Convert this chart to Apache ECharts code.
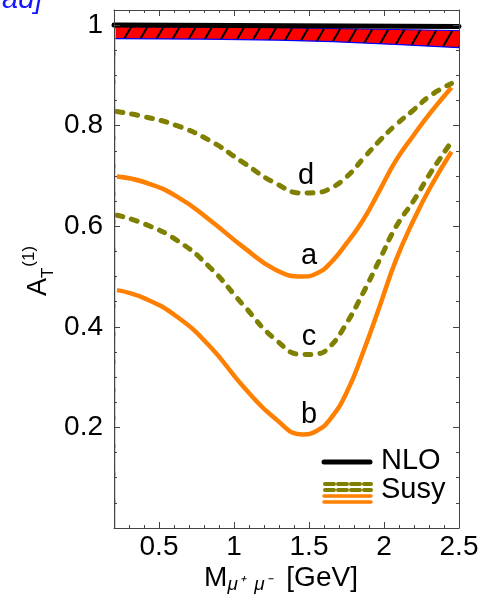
<!DOCTYPE html>
<html>
<head>
<meta charset="utf-8">
<script src="https://cdn.jsdelivr.net/npm/echarts@6/dist/echarts.min.js"></script>
<style>
  html, body { margin: 0; padding: 0; background: #fff; }
  #chart { width: 484px; height: 602px; }
</style>
</head>
<body>
<div id="chart"></div>
<script>
  const FONT = 'Liberation Sans, Arial, Helvetica, sans-serif'

  // curves a-d share one x grid (M in GeV)
  const xs = [0.22, 0.4, 0.62, 0.84, 1.06, 1.28, 1.46, 1.55, 1.64, 1.75, 1.86, 1.97, 2.08, 2.2, 2.31, 2.45]
  const curveA = [0.699, 0.688, 0.659, 0.612, 0.559, 0.513, 0.500, 0.506, 0.526, 0.566, 0.612, 0.671, 0.731, 0.782, 0.826, 0.876]
  const curveB = [0.473, 0.457, 0.420, 0.361, 0.282, 0.216, 0.186, 0.193, 0.216, 0.269, 0.349, 0.440, 0.533, 0.614, 0.678, 0.748]
  const curveC = [0.622, 0.605, 0.572, 0.518, 0.444, 0.374, 0.345, 0.346, 0.361, 0.407, 0.467, 0.533, 0.599, 0.652, 0.706, 0.768]
  const curveD = [0.828, 0.818, 0.800, 0.770, 0.727, 0.685, 0.666, 0.667, 0.675, 0.698, 0.734, 0.770, 0.802, 0.832, 0.860, 0.884]

  // NLO line and the hatched band under it
  const nloX = [0.2, 1.0, 2.5]
  const nloY = [1.0, 0.999, 0.997]
  const bandX = [0.21, 0.8, 1.29, 1.66, 2.11, 2.5]
  const bandLow = [0.973, 0.972, 0.970, 0.967, 0.961, 0.955]
  const bandHigh = [0.997, 0.996, 0.995, 0.993, 0.991, 0.989]

  // curve letters
  const labelText = ['a', 'b', 'c', 'd']
  const labelX = [1.5, 1.5, 1.5, 1.48]
  const labelY = [0.541, 0.225, 0.38, 0.70]

  const ORANGE = '#ff7f00'
  const OLIVE = '#808000'

  const pts = (xArr, yArr) => xArr.map((x, i) => [x, yArr[i]])

  const mainAxisBase = {
    type: 'value',
    z: 6,
    axisLine: { show: true, onZero: false, lineStyle: { color: '#444', width: 1 } },
    axisTick: { show: true, inside: true, length: 6, lineStyle: { color: '#444' } },
    splitLine: { show: false },
    axisLabel: { show: false },
  }
  const minorAxisBase = {
    type: 'value',
    z: 6,
    axisLine: { show: false, onZero: false },
    axisTick: { show: true, inside: true, length: 3, lineStyle: { color: '#444' } },
    splitLine: { show: false },
    axisLabel: { show: false },
  }

  const xFmt = v => (v > 0.3 && Math.abs(v * 2 - Math.round(v * 2)) < 1e-6) ? String(v) : ''
  const yFmt = v => (v > 0.1 && Math.abs(v * 5 - Math.round(v * 5)) < 1e-6) ? String(Math.round(v * 10) / 10) : ''

  const curveSeries = (name, data, dashed) => ({
    name,
    type: 'line',
    data: pts(xs, data),
    smooth: 0.5,
    showSymbol: false,
    symbol: 'none',
    lineStyle: dashed
      ? { color: OLIVE, width: 5, type: [6, 9], cap: 'round' }
      : { color: ORANGE, width: 4.5 },
    z: 4,
  })

  const chart = echarts.init(document.getElementById('chart'), null, { renderer: 'canvas' })

  chart.setOption({
    animation: false,
    backgroundColor: '#fff',
    textStyle: { fontFamily: FONT },
    grid: { left: 114, right: 25, top: 10, bottom: 74, containLabel: false },
    xAxis: [
      Object.assign({}, mainAxisBase, {
        position: 'bottom', min: 0.2, max: 2.5, splitNumber: 5,
        axisLabel: { show: true, formatter: xFmt, fontSize: 28, color: '#000', margin: 5, fontFamily: FONT },
      }),
      Object.assign({}, mainAxisBase, { position: 'top', min: 0.2, max: 2.5, splitNumber: 5 }),
      Object.assign({}, minorAxisBase, { position: 'bottom', min: 0.2, max: 2.5, interval: 0.1 }),
      Object.assign({}, minorAxisBase, { position: 'top', min: 0.2, max: 2.5, interval: 0.1 }),
    ],
    yAxis: [
      Object.assign({}, mainAxisBase, {
        position: 'left', min: 0, max: 1.03, interval: 0.2,
        axisLabel: { show: true, formatter: yFmt, fontSize: 28, color: '#000', margin: 11, fontFamily: FONT },
      }),
      Object.assign({}, mainAxisBase, { position: 'right', min: 0, max: 1.03, interval: 0.2 }),
      Object.assign({}, minorAxisBase, { position: 'left', min: 0, max: 1.03, interval: 0.05 }),
      Object.assign({}, minorAxisBase, { position: 'right', min: 0, max: 1.03, interval: 0.05 }),
    ],
    series: [
      // red hatched fill down from the upper edge of the band
      {
        name: 'bandHigh',
        type: 'line',
        data: pts(bandX, bandHigh),
        symbol: 'none',
        lineStyle: { color: '#0000ff', width: 1 },
        areaStyle: { color: '#ff0000', opacity: 1, origin: 'start' },
        itemStyle: {
          color: '#ff0000',
          decal: {
            symbol: 'rect',
            symbolSize: 1,
            dashArrayX: [1, 0],
            dashArrayY: [1.2, 12],
            rotation: -Math.PI / 3,
            color: '#000',
          },
        },
        z: 1,
      },
      // white fill below the lower edge clears everything under the band
      {
        name: 'bandLow',
        type: 'line',
        data: pts(bandX, bandLow),
        symbol: 'none',
        lineStyle: { color: '#0000ff', width: 1.2 },
        areaStyle: { color: '#ffffff', opacity: 1, origin: 'start' },
        z: 2,
      },
      {
        name: 'NLO',
        type: 'line',
        data: pts(nloX, nloY),
        symbol: 'none',
        lineStyle: { color: '#000', width: 5, cap: 'round' },
        z: 3,
      },
      curveSeries('a', curveA, false),
      curveSeries('b', curveB, false),
      curveSeries('c', curveC, true),
      curveSeries('d', curveD, true),
      {
        name: 'labels',
        type: 'scatter',
        symbolSize: 0,
        itemStyle: { opacity: 1 },
        data: labelText.map((t, i) => ({ value: [labelX[i], labelY[i]], name: t })),
        label: {
          show: true,
          position: 'inside',
          formatter: p => p.name,
          fontSize: 29,
          color: '#000',
          opacity: 1,
          fontFamily: FONT,
        },
        z: 5,
      },
    ],
    graphic: [
      // stray caption fragment from the page above the plot
      {
        type: 'text', left: 2, top: -15, z: 100,
        style: { text: 'ad]', fill: '#1515ff', font: 'italic 29px ' + FONT },
      },
      // y axis name A_T^(1)
      {
        type: 'text', x: 39, y: 271, rotation: Math.PI / 2, z: 100,
        style: {
          text: '{a|A}{t|T}{p|(1)}',
          align: 'center', verticalAlign: 'middle',
          rich: {
            a: { fontSize: 27, lineHeight: 36, fontFamily: FONT, fill: '#000' },
            t: { fontSize: 17, lineHeight: 17, verticalAlign: 'bottom', fontFamily: FONT, fill: '#000' },
            p: { fontSize: 17, lineHeight: 17, verticalAlign: 'top', fontFamily: FONT, fill: '#000', padding: [0, 0, 0, 1] },
          },
        },
      },
      // x axis name M_{mu+ mu-} [GeV]
      {
        type: 'text', x: 281, y: 578, z: 100,
        style: {
          text: '{m|M}{s|μ⁺  μ⁻}{g|  [GeV]}',
          align: 'center', verticalAlign: 'middle',
          rich: {
            m: { fontSize: 28, lineHeight: 32, fontFamily: FONT, fill: '#000' },
            s: { fontSize: 19, lineHeight: 19, verticalAlign: 'bottom', fontStyle: 'italic', fontFamily: FONT, fill: '#000' },
            g: { fontSize: 28, lineHeight: 32, fontFamily: FONT, fill: '#000' },
          },
        },
      },
      // legend
      {
        type: 'line', z: 100, shape: { x1: 324, y1: 462, x2: 370, y2: 462 },
        style: { stroke: '#000', lineWidth: 5, lineCap: 'round' },
      },
      {
        type: 'text', x: 381, y: 461, z: 100,
        style: { text: 'NLO', font: '29px ' + FONT, fill: '#000', verticalAlign: 'middle' },
      },
      {
        type: 'line', z: 100, shape: { x1: 325, y1: 484, x2: 371, y2: 484 },
        style: { stroke: OLIVE, lineWidth: 4, lineDash: [9, 4], lineCap: 'round' },
      },
      {
        type: 'line', z: 100, shape: { x1: 325, y1: 490, x2: 371, y2: 490 },
        style: { stroke: OLIVE, lineWidth: 4, lineDash: [9, 4], lineCap: 'round' },
      },
      {
        type: 'line', z: 100, shape: { x1: 324, y1: 496, x2: 371, y2: 496 },
        style: { stroke: ORANGE, lineWidth: 3.5, lineCap: 'round' },
      },
      {
        type: 'line', z: 100, shape: { x1: 324, y1: 502, x2: 371, y2: 502 },
        style: { stroke: ORANGE, lineWidth: 3.5, lineCap: 'round' },
      },
      {
        type: 'text', x: 381, y: 490, z: 100,
        style: { text: 'Susy', font: '29px ' + FONT, fill: '#000', verticalAlign: 'middle' },
      },
    ],
  })
</script>
</body>
</html>
